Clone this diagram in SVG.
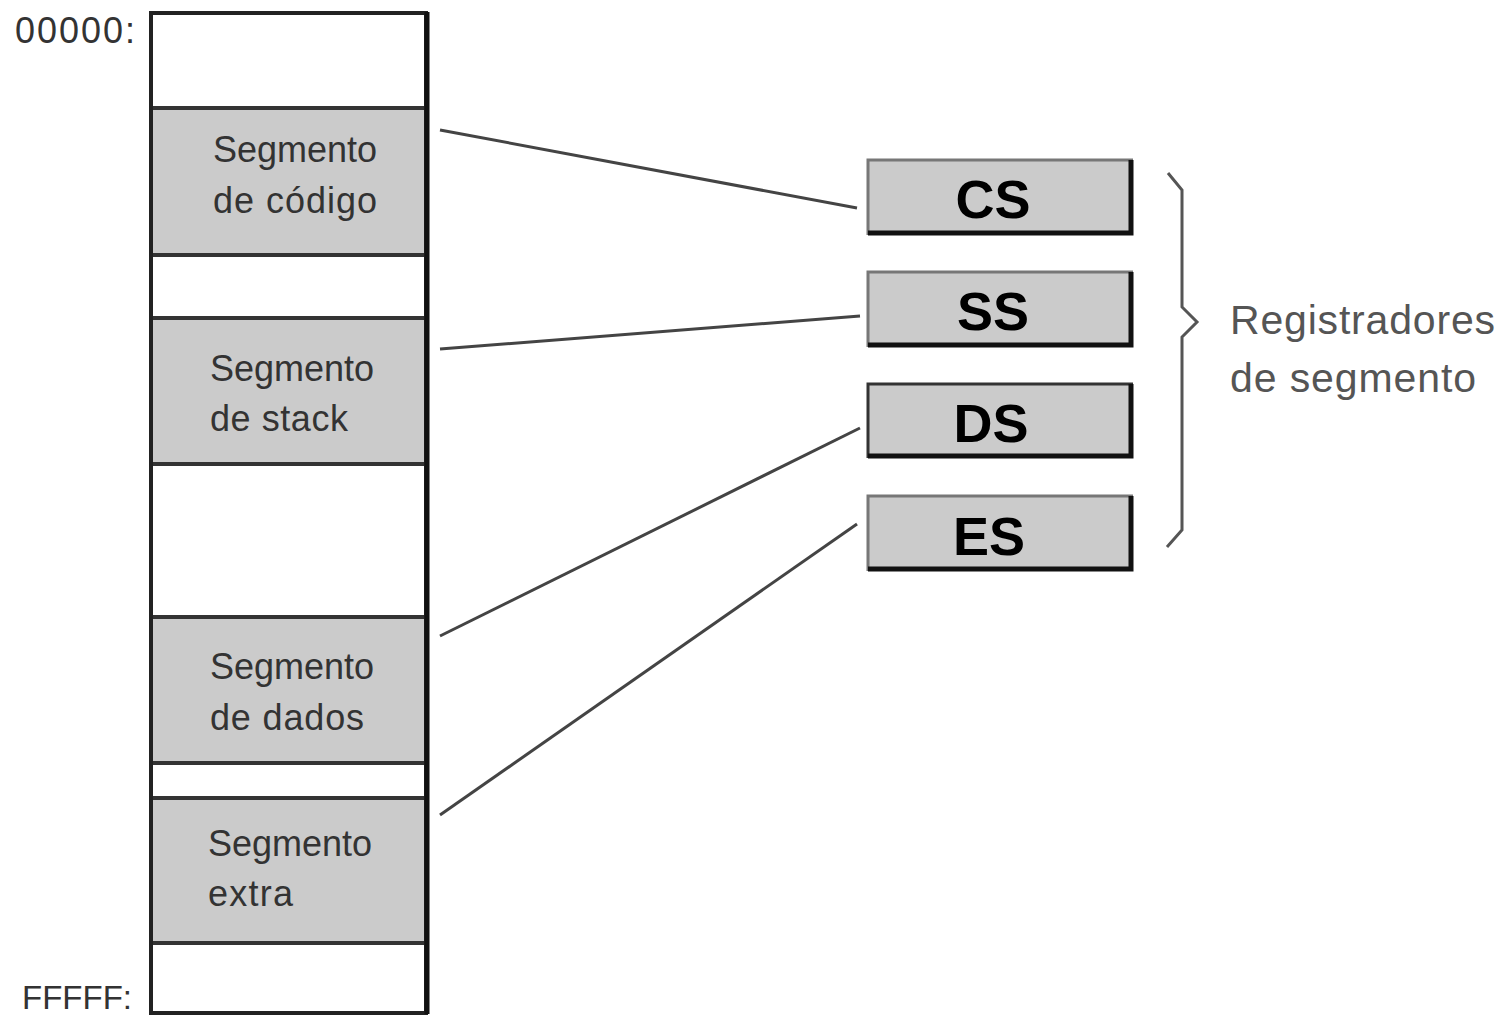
<svg xmlns="http://www.w3.org/2000/svg" width="1509" height="1016" viewBox="0 0 1509 1016">
<style>
.addr{font-family:"Liberation Sans",Arial,sans-serif;font-size:36px;fill:#333}
.seg{font-family:"Liberation Sans",Arial,sans-serif;font-size:36px;fill:#333}
.reg{font-family:"Liberation Sans",Arial,sans-serif;font-size:54px;font-weight:bold;fill:#000;text-anchor:middle}
.lbl{font-family:"Liberation Sans",Arial,sans-serif;font-size:41px;fill:#555}
.gray{fill:#cbcbcb}
.white{fill:#fff}
.div{stroke:#333;stroke-width:4}
.conn{stroke:#444;stroke-width:3;fill:none}
</style>
<rect width="1509" height="1016" fill="#fff"/>
<g id="memory">
<rect x="151" y="13" width="275" height="1000" class="white"/>
<rect x="151" y="108" width="275" height="147" class="gray"/>
<rect x="151" y="318" width="275" height="146" class="gray"/>
<rect x="151" y="617" width="275" height="146" class="gray"/>
<rect x="151" y="798" width="275" height="145" class="gray"/>
<line x1="151" y1="108" x2="426" y2="108" class="div"/>
<line x1="151" y1="255" x2="426" y2="255" class="div"/>
<line x1="151" y1="318" x2="426" y2="318" class="div"/>
<line x1="151" y1="464" x2="426" y2="464" class="div"/>
<line x1="151" y1="617" x2="426" y2="617" class="div"/>
<line x1="151" y1="763" x2="426" y2="763" class="div"/>
<line x1="151" y1="798" x2="426" y2="798" class="div"/>
<line x1="151" y1="943" x2="426" y2="943" class="div"/>
<rect x="151" y="13" width="275" height="1000" fill="none" stroke="#222" stroke-width="4"/>
<line x1="427" y1="12" x2="427" y2="1014" stroke="#111" stroke-width="5"/>
<text x="15" y="43" class="addr" textLength="120">00000:</text>
<text x="22" y="1009" class="addr" style="font-size:33px">FFFFF:</text>
</g>
<g id="seg-codigo"><text x="213" y="162" class="seg" textLength="164">Segmento</text><text x="213" y="213" class="seg" textLength="164">de código</text></g>
<g id="seg-stack"><text x="210" y="381" class="seg" textLength="164">Segmento</text><text x="210" y="431" class="seg" textLength="138">de stack</text></g>
<g id="seg-dados"><text x="210" y="679" class="seg" textLength="164">Segmento</text><text x="210" y="730" class="seg" textLength="154">de dados</text></g>
<g id="seg-extra"><text x="208" y="856" class="seg" textLength="164">Segmento</text><text x="208" y="906" class="seg" textLength="85">extra</text></g>
<g id="connectors">
<line x1="440" y1="130" x2="857" y2="208" class="conn"/>
<line x1="440" y1="349" x2="860" y2="316" class="conn"/>
<line x1="440" y1="636" x2="860" y2="428" class="conn"/>
<line x1="440" y1="815" x2="857" y2="524" class="conn"/>
</g>
<g id="reg-cs">
<rect x="868" y="160" width="265" height="75" class="gray"/>
<path d="M868 235 V160 H1133" fill="none" stroke="#777" stroke-width="3"/>
<path d="M868 233 H1131 V160" fill="none" stroke="#111" stroke-width="5"/>
<text x="993" y="218" class="reg">CS</text>
</g>
<g id="reg-ss">
<rect x="868" y="272" width="265" height="75" class="gray"/>
<path d="M868 347 V272 H1133" fill="none" stroke="#777" stroke-width="3"/>
<path d="M868 345 H1131 V272" fill="none" stroke="#111" stroke-width="5"/>
<text x="993" y="330" class="reg">SS</text>
</g>
<g id="reg-ds">
<rect x="868" y="384" width="265" height="74" class="gray"/>
<path d="M868 458 V384 H1133" fill="none" stroke="#333" stroke-width="3"/>
<path d="M868 456 H1131 V384" fill="none" stroke="#111" stroke-width="5"/>
<text x="991" y="442" class="reg">DS</text>
</g>
<g id="reg-es">
<rect x="868" y="496" width="265" height="75" class="gray"/>
<path d="M868 571 V496 H1133" fill="none" stroke="#777" stroke-width="3"/>
<path d="M868 569 H1131 V496" fill="none" stroke="#111" stroke-width="5"/>
<text x="989" y="555" class="reg">ES</text>
</g>
<g id="brace">
<path d="M1168 173 L1182 190 V307 L1197 322 L1182 337 V530 L1167 547" fill="none" stroke="#555" stroke-width="3"/>
<text x="1230" y="334" class="lbl" textLength="265">Registradores</text>
<text x="1230" y="392" class="lbl" textLength="246">de segmento</text>
</g>
</svg>
